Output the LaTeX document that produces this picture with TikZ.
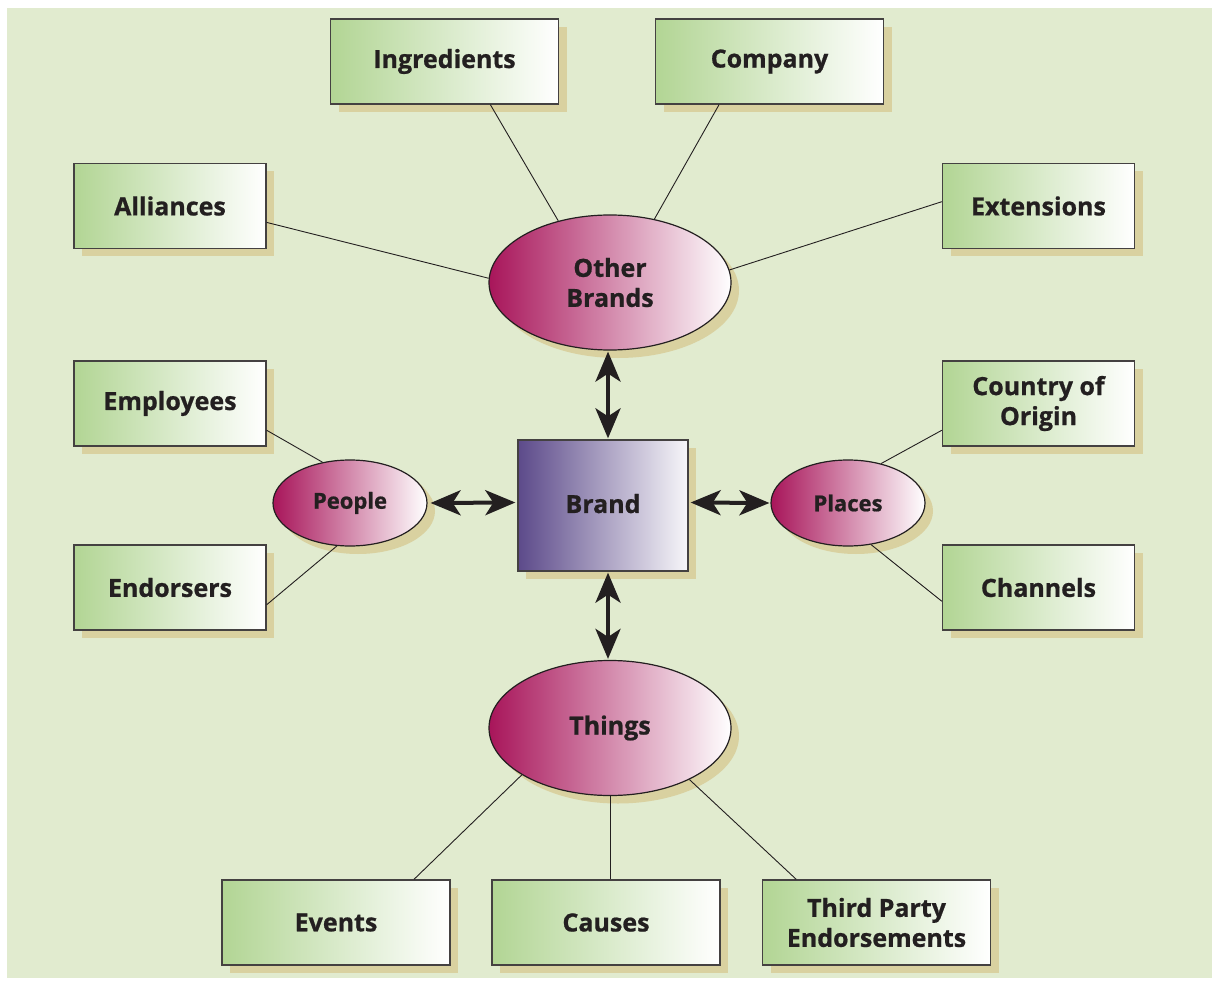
\documentclass[tikz,border=0pt]{standalone}
\usepackage{fontspec}
\setmainfont{Open Sans}[BoldFeatures={FakeBold=0.8}]
\usetikzlibrary{shapes.geometric,shadows,arrows.meta,calc}
\definecolor{bg}{HTML}{E1EBCF}
\definecolor{boxg}{HTML}{B2D594}
\definecolor{mag}{HTML}{A8155A}
\definecolor{purp}{HTML}{5C4A8A}
\definecolor{shad}{HTML}{D9D1A0}
\definecolor{ink}{HTML}{231F20}
\begin{document}
\begin{tikzpicture}[x=1pt,y=-1pt,
  lbl/.style={font=\fontsize{25}{30}\selectfont\bfseries, text=ink, align=center},
  shd/.style={general shadow={fill=shad, shadow xshift=8pt, shadow yshift=-8pt}},
  gbox/.style={lbl, shd, draw=ink!85, line width=1.3pt, left color=boxg, right color=white,
    inner sep=0pt, minimum height=85pt, minimum width=192pt},
  wide/.style={minimum width=228pt},
  oval/.style={lbl, ellipse, shd, draw=ink, line width=1.2pt, left color=mag, right color=white,
    inner sep=0pt, minimum width=242pt, minimum height=135pt},
  small/.style={minimum width=154pt, minimum height=86pt, font=\fontsize{22}{26}\selectfont\bfseries,
    general shadow={fill=shad, shadow xshift=5pt, shadow yshift=-4pt}},
  core/.style={lbl, shd, draw=ink!85, line width=1.3pt, left color=purp, right color=white!95!purp,
    inner sep=0pt, minimum width=170pt, minimum height=131pt},
  link/.style={draw=ink, line width=0.9pt},
  dbl/.style={draw=ink, line width=4pt, {Stealth[length=30pt,width=25pt,inset=8pt]}-{Stealth[length=30pt,width=25pt,inset=8pt]}}
]
\useasboundingbox (0,0) rectangle (1212,981);
\fill[white] (0,0) rectangle (1212,981);
\fill[bg] (7,8) rectangle (1212,978);

\node[gbox,wide] (ing) at (444.5,61.5) {Ingredients};
\node[gbox,wide] (com) at (769.5,61.5) {Company};
\node[gbox] (all) at (170,206) {Alliances};
\node[gbox] (ext) at (1038.5,206) {Extensions};
\node[gbox] (emp) at (170,403.5) {Employees};
\node[gbox] (coo) at (1038.5,403.5) {Country of\\Origin};
\node[gbox] (end) at (170,587.5) {Endorsers};
\node[gbox] (cha) at (1038.5,587.5) {Channels};
\node[gbox,wide] (evt) at (336,922.5) {Events};
\node[gbox,wide] (cau) at (606,922.5) {Causes};
\node[gbox,wide] (tpe) at (876.5,922.5) {Third Party\\Endorsements};

\node[oval] (ob) at (610,282.5) {Other\\Brands};
\node[oval] (th) at (610,728) {Things};
\node[oval,small] (pe) at (350,503) {\raisebox{-2pt}{People}};
\node[oval,small] (pl) at (848,503) {Places};
\node[core] (br) at (603,505.5) {\raisebox{4pt}{Brand}};

\draw[link] ($(ing.south west)!0.70!(ing.south east)$) -- (ob.130);
\draw[link] ($(com.south west)!0.28!(com.south east)$) -- (ob.55);
\draw[link] ($(all.north east)!0.69!(all.south east)$) -- (ob.178);
\draw[link] ($(ext.north west)!0.45!(ext.south west)$) -- (ob.6);
\draw[link] ($(emp.north east)!0.81!(emp.south east)$) -- (pe.124);
\draw[link] ($(end.north east)!0.70!(end.south east)$) -- (pe.253);
\draw[link] ($(coo.north west)!0.81!(coo.south west)$) -- (pl.50);
\draw[link] ($(cha.north west)!0.66!(cha.south west)$) -- (pl.299);
\draw[link] ($(evt.north west)!0.84!(evt.north east)$) -- (th.208);
\draw[link] (th.south) -- (th.south |- cau.north);
\draw[link] ($(tpe.north west)!0.15!(tpe.north east)$) -- (th.327);

\draw[dbl] ($(ob.south)+(-2,1)$) -- ($(br.north)+(5,-1)$);
\draw[dbl] ($(br.south)+(5,1)$) -- ($(th.north)+(-2,-1)$);
\draw[dbl] ($(pe.east)+(3,0)$) -- ($(br.west)+(-2,-3)$);
\draw[dbl] ($(br.east)+(2,-3)$) -- ($(pl.west)+(-1,0)$);
\end{tikzpicture}
\end{document}
